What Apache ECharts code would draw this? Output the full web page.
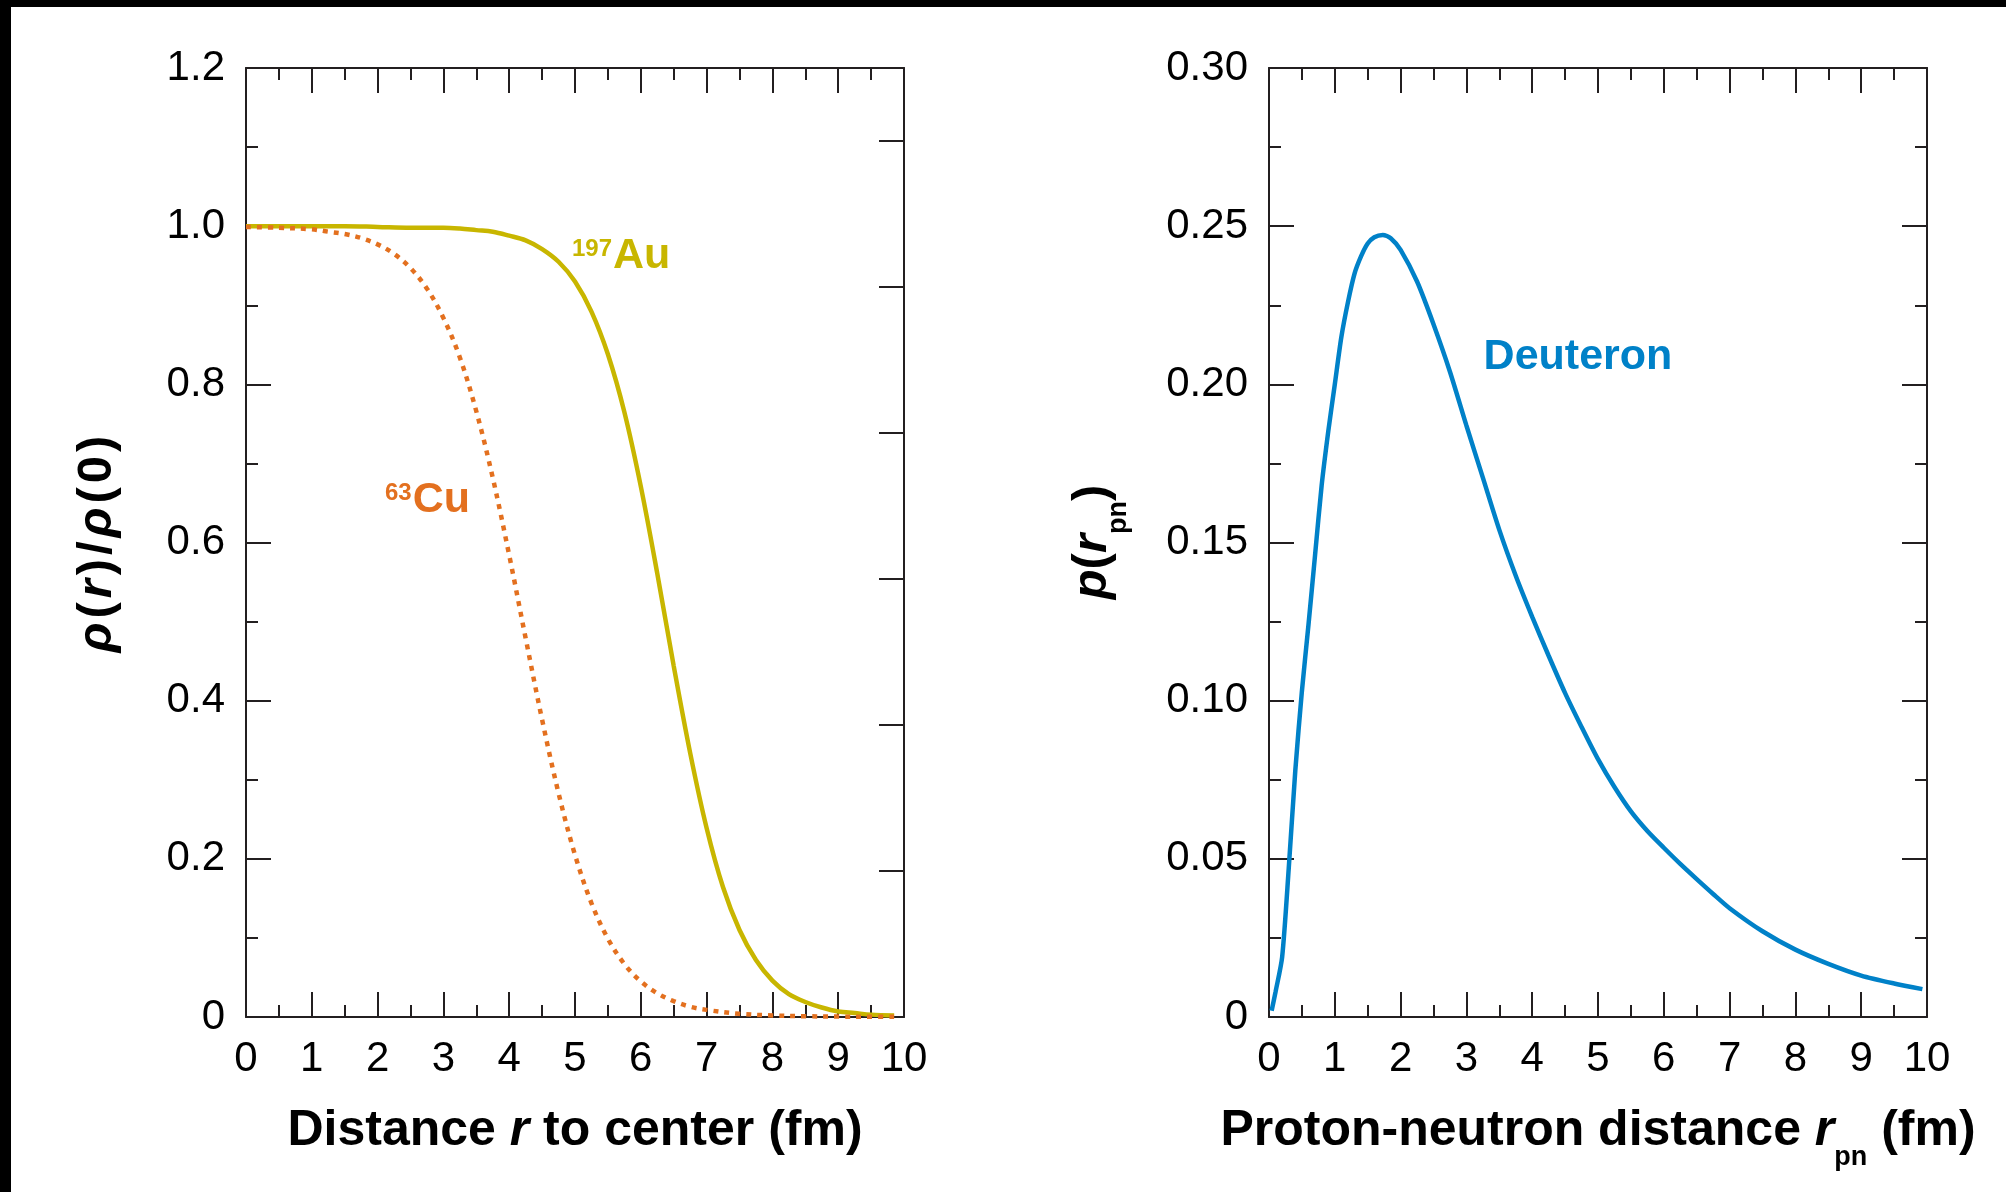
<!DOCTYPE html>
<html><head><meta charset="utf-8">
<script src="https://cdn.jsdelivr.net/npm/echarts@6/dist/echarts.min.js"></script>
<style>html,body{margin:0;padding:0;background:#fff;}#c{width:2006px;height:1192px;}</style>
</head><body><div id="c"></div>
<script>
// ---- data ----
const auR   = [0,0.5,1,1.5,2,2.5,3,3.25,3.5,3.75,4,4.25,4.5,4.75,5,5.25,5.5,5.75,6,6.25,6.5,6.75,7,7.25,7.5,7.75,8,8.25,8.5,8.75,9,9.25,9.5,9.85];
const auRho = [1.000,1.000,1.000,1.000,0.999,0.998,0.998,0.997,0.995,0.993,0.988,0.982,0.971,0.955,0.930,0.892,0.838,0.765,0.671,0.561,0.444,0.334,0.239,0.164,0.110,0.072,0.046,0.029,0.019,0.012,0.007,0.005,0.003,0.002];
const cuR   = [0,0.5,1,1.25,1.5,1.75,2,2.25,2.5,2.75,3,3.25,3.5,3.75,4,4.25,4.5,4.75,5,5.25,5.5,5.75,6,6.25,6.5,6.75,7,7.5,8,8.5,9,9.5,9.85];
const cuRho = [0.999,0.998,0.996,0.993,0.990,0.985,0.977,0.965,0.947,0.921,0.884,0.834,0.766,0.682,0.584,0.479,0.376,0.283,0.205,0.144,0.099,0.067,0.045,0.030,0.020,0.013,0.009,0.004,0.002,0.001,0.0005,0.0003,0.0002];
const dR    = [0.04,0.1,0.2,0.3,0.4,0.5,0.6,0.7,0.8,0.9,1.0,1.1,1.2,1.3,1.4,1.5,1.6,1.73,1.85,2.0,2.25,2.5,2.75,3.0,3.25,3.5,3.75,4.0,4.25,4.5,4.75,5.0,5.25,5.5,5.75,6.0,6.25,6.5,6.75,7.0,7.5,8.0,8.5,9.0,9.5,9.93];
const dP    = [0.002,0.008,0.019,0.047,0.078,0.103,0.124,0.146,0.168,0.185,0.200,0.215,0.226,0.235,0.2405,0.2445,0.2465,0.2472,0.2462,0.2425,0.2325,0.219,0.204,0.187,0.1705,0.154,0.1395,0.1265,0.1142,0.1024,0.0917,0.0815,0.0727,0.0650,0.0588,0.0535,0.0484,0.0436,0.0389,0.0344,0.0271,0.0213,0.0168,0.0131,0.0106,0.0088];
const xTickLabels  = ['0','1','2','3','4','5','6','7','8','9','10'];
const yTickLabelsL = ['0','0.2','0.4','0.6','0.8','1.0','1.2'];
const yTickLabelsR = ['0','0.05','0.10','0.15','0.20','0.25','0.30'];

// ---- styling ----
const AX = '#231f20';
const AU = '#c8b600', CU = '#e3701f', DE = '#0081c8';
const FF = '"Liberation Sans", Arial, Helvetica, sans-serif';
const LBL = {fontSize:42, color:'#000', fontFamily:FF};

function ticks(len){return {show:true,inside:true,length:len,lineStyle:{color:AX,width:2}};}
function xAx(g,pos,lab){
  return {type:'value',gridIndex:g,position:pos,min:0,max:10,interval:1,
    axisLine:{show:true,onZero:false,lineStyle:{color:AX,width:2}},
    axisTick:ticks(25),
    minorTick:{show:true,splitNumber:2,length:12,lineStyle:{color:AX,width:2}},
    splitLine:{show:false},minorSplitLine:{show:false},
    axisLabel:Object.assign({show:lab,margin:21,formatter:v=>xTickLabels[Math.round(v)]},LBL)};
}
function yAx(g,pos,lab,max,itv,labels){
  return {type:'value',gridIndex:g,position:pos,min:0,max:max,interval:itv,
    axisLine:{show:true,onZero:false,lineStyle:{color:AX,width:2}},
    axisTick:ticks(25),
    minorTick:{show:true,splitNumber:2,length:12,lineStyle:{color:AX,width:2}},
    splitLine:{show:false},minorSplitLine:{show:false},
    axisLabel:Object.assign({show:lab,margin:21,formatter:v=>labels[Math.round(v/itv)]},LBL)};
}
function yPlain(g,min,max,itv,len,line){
  return {type:'value',gridIndex:g,position:'right',min:min,max:max,interval:itv,
    axisLine:{show:line,onZero:false,lineStyle:{color:AX,width:2}},
    axisTick:ticks(len),splitLine:{show:false},axisLabel:{show:false}};
}

const T = {fontFamily:FF,fontWeight:'bold',fontSize:50,fill:'#000',color:'#000'};
const rt = {b:Object.assign({},T), bi:Object.assign({},T,{fontStyle:'italic'}),
            sub:Object.assign({},T,{fontSize:27,padding:[54,0,0,0]})};
const rtY = {b:Object.assign({},T,{fontSize:49,padding:[0,2,0,2]}), bi:Object.assign({},T,{fontSize:49,fontStyle:'italic',padding:[0,2,0,2]})};
const rtP = {b:Object.assign({},T,{fontSize:49}), bi:Object.assign({},T,{fontSize:49,fontStyle:'italic'}),
            sub:Object.assign({},T,{fontSize:27,padding:[54,0,0,0]})};
function txt(x,y,text,rich,rot){
  return {type:'text',x:x,y:y,rotation:rot||0,z:100,
    style:{text:text,rich:rich,align:'center',verticalAlign:'middle',textAlign:'center',textVerticalAlign:'middle',fontFamily:FF,fontSize:49,fontWeight:'bold'}};
}
function lab(x,y,sup,main,col){
  const r={s:{fontFamily:FF,fontWeight:'bold',fontSize:24,fill:col,color:col,padding:[0,1,14,0]},
           m:{fontFamily:FF,fontWeight:'bold',fontSize:43,fill:col,color:col}};
  return {type:'text',x:x,y:y,z:100,style:{text:(sup?'{s|'+sup+'}':'')+'{m|'+main+'}',rich:r,
    align:'left',verticalAlign:'middle',textAlign:'left',textVerticalAlign:'middle',fontFamily:FF,fontSize:43,fontWeight:'bold'}};
}

const chart = echarts.init(document.getElementById('c'), null, {renderer:'canvas'});
chart.setOption({
  backgroundColor:'#fff',
  animation:false,
  grid:[{left:246,top:68,width:658,height:949},{left:1269,top:68,width:658,height:949}],
  xAxis:[xAx(0,'bottom',true),xAx(0,'top',false),xAx(1,'bottom',true),xAx(1,'top',false)],
  yAxis:[yAx(0,'left',true,1.2,0.2,yTickLabelsL),
         yPlain(0,0,13,2,25,true),
         yPlain(0,-1,12,2,12,false),
         yAx(1,'left',true,0.3,0.05,yTickLabelsR),
         yAx(1,'right',false,0.3,0.05,yTickLabelsR)],
  series:[
    {type:'line',xAxisIndex:0,yAxisIndex:0,data:auR.map((r,i)=>[r,auRho[i]]),showSymbol:false,symbol:'none',
     smooth:0.35,lineStyle:{color:AU,width:4.5},z:3},
    {type:'line',xAxisIndex:0,yAxisIndex:0,data:cuR.map((r,i)=>[r,cuRho[i]]),showSymbol:false,symbol:'none',
     smooth:0.35,lineStyle:{color:CU,width:4.5,type:[5,6],cap:'butt'},z:4},
    {type:'line',xAxisIndex:2,yAxisIndex:3,data:dR.map((r,i)=>[r,dP[i]]),showSymbol:false,symbol:'none',
     smooth:0.25,lineStyle:{color:DE,width:4.5},z:3}
  ],
  graphic:[
    {type:'rect',shape:{x:0,y:0,width:2006,height:7},style:{fill:'#000'},z:200},
    {type:'rect',shape:{x:0,y:0,width:11,height:1192},style:{fill:'#000'},z:200},
    txt(575,1131,'{b|Distance }{bi|r}{b| to center (fm)}',rt),
    txt(1598,1131,'{b|Proton-neutron distance }{bi|r}{sub|pn}{b| (fm)}',rt),
    txt(97,544,'{bi|ρ}{b|(}{bi|r}{b|)}{b|/}{bi|ρ}{b|(}{b|0}{b|)}',rtY,Math.PI/2),
    txt(1092,542,'{bi|p}{b|(}{bi|r}{sub|pn}{b|)}',rtP,Math.PI/2),
    lab(572,256,'197','Au',AU),
    lab(385,500,'63','Cu',CU),
    lab(1483.6,357,'','Deuteron',DE)
  ]
});
</script></body></html>
